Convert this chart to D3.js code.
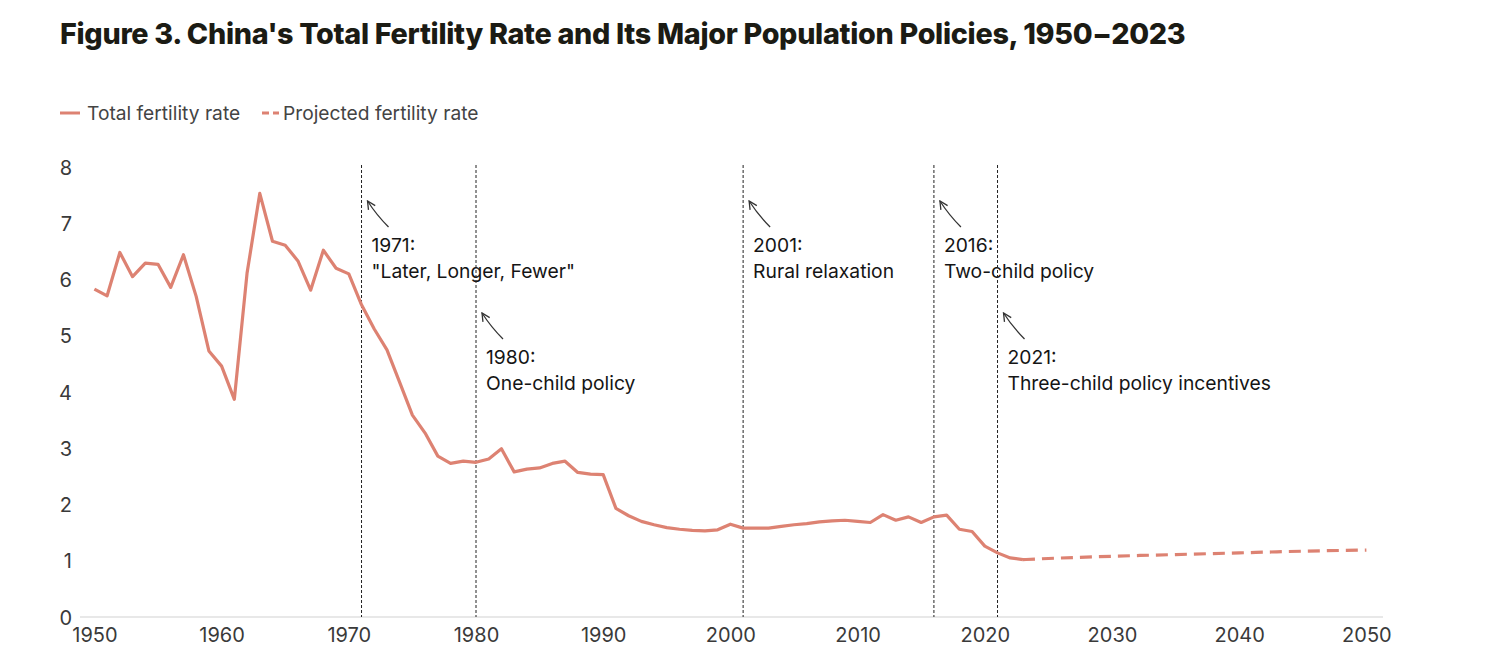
<!DOCTYPE html>
<html lang="en">
<head>
  <meta charset="UTF-8">
  <title>Figure 3</title>
  <script src="https://cdn.jsdelivr.net/npm/d3@7"></script>
  <style>
    body { margin: 0; background: #fff; }
    svg { font-family: Inter, "Noto Sans", sans-serif; }
    .note { fill: #151515; font-size: 19.3px; }
    .legend-label { fill: #444; font-size: 19.2px; }
  </style>
</head>
<body>
  <script>
    // Data
    var years = [1950, 1951, 1952, 1953, 1954, 1955, 1956, 1957, 1958, 1959,
                 1960, 1961, 1962, 1963, 1964, 1965, 1966, 1967, 1968, 1969,
                 1970, 1971, 1972, 1973, 1974, 1975, 1976, 1977, 1978, 1979,
                 1980, 1981, 1982, 1983, 1984, 1985, 1986, 1987, 1988, 1989,
                 1990, 1991, 1992, 1993, 1994, 1995, 1996, 1997, 1998, 1999,
                 2000, 2001, 2002, 2003, 2004, 2005, 2006, 2007, 2008, 2009,
                 2010, 2011, 2012, 2013, 2014, 2015, 2016, 2017, 2018, 2019,
                 2020, 2021, 2022, 2023];
    var tfr = [5.83, 5.71, 6.48, 6.05, 6.29, 6.27, 5.86, 6.44, 5.70, 4.73,
               4.46, 3.87, 6.11, 7.53, 6.68, 6.61, 6.33, 5.81, 6.52, 6.20,
               6.10, 5.55, 5.12, 4.75, 4.17, 3.59, 3.27, 2.86, 2.73, 2.77,
               2.75, 2.81, 2.99, 2.58, 2.63, 2.65, 2.73, 2.77, 2.57, 2.54,
               2.53, 1.93, 1.80, 1.70, 1.64, 1.59, 1.56, 1.54, 1.53, 1.55,
               1.65, 1.58, 1.58, 1.58, 1.61, 1.64, 1.66, 1.69, 1.71, 1.72,
               1.70, 1.68, 1.82, 1.72, 1.78, 1.68, 1.78, 1.81, 1.56, 1.52,
               1.26, 1.14, 1.05, 1.02];
    var projYears = [2023, 2025, 2030, 2035, 2040, 2045, 2050];
    var projTfr = [1.02, 1.04, 1.08, 1.11, 1.14, 1.17, 1.19];

    var policyYears = [1971, 1980, 2001, 2016, 2021];
    var policyLines = [
      ["1971:", "\"Later, Longer, Fewer\""],
      ["1980:", "One-child policy"],
      ["2001:", "Rural relaxation"],
      ["2016:", "Two-child policy"],
      ["2021:", "Three-child policy incentives"]
    ];
    var policyLevel = [0, 1, 0, 0, 1]; // which row the label sits in

    var xTicks = [1950, 1960, 1970, 1980, 1990, 2000, 2010, 2020, 2030, 2040, 2050];
    var yTicks = [0, 1, 2, 3, 4, 5, 6, 7, 8];

    var lineColor = "#dd8272";

    var svg = d3.select("body").append("svg")
      .attr("width", 1486)
      .attr("height", 672);

    /* SCALES */
    var x = d3.scaleLinear().domain([1950, 2050]).range([94.4, 1366.4]);
    var y = d3.scaleLinear().domain([0, 8]).range([617, 167]);

    /* TITLE */
    var title = svg.append("text")
      .attr("x", 60)
      .attr("y", 44)
      .attr("fill", "#1b1b14")
      .style("font-size", "28px")
      .style("font-weight", 800)
      .style("letter-spacing", "-0.3px")
      .text("Figure 3. China's Total Fertility Rate and Its Major Population Policies, 1950\u22122023");
    // fit title width to the original
    var tw = title.node().getComputedTextLength();
    title.style("font-size", (28 * 1125 / tw) + "px");

    /* LEGEND */
    var legend = svg.append("g");
    legend.append("line")
      .attr("x1", 60).attr("x2", 80).attr("y1", 113).attr("y2", 113)
      .attr("stroke", lineColor).attr("stroke-width", 3);
    legend.append("text").attr("class", "legend-label")
      .attr("x", 87).attr("y", 119.5).text("Total fertility rate");
    legend.append("line")
      .attr("x1", 262).attr("x2", 279).attr("y1", 113).attr("y2", 113)
      .attr("stroke", lineColor).attr("stroke-width", 3)
      .attr("stroke-dasharray", "7,4");
    legend.append("text").attr("class", "legend-label")
      .attr("x", 283).attr("y", 119.5).text("Projected fertility rate");

    /* AXES */
    var axisX = d3.axisBottom(x).tickValues(xTicks).tickFormat(d3.format("d")).tickSize(0).tickPadding(11);
    var gx = svg.append("g").attr("transform", "translate(0,617)").call(axisX)
      .attr("font-size", 20).attr("font-family", null);
    gx.select(".domain").attr("stroke", "#e0e0e0").attr("stroke-width", 1.5)
      .attr("d", "M80,0H1383");
    gx.selectAll("text").attr("fill", "#3a3a3a");

    var axisY = d3.axisLeft(y).tickValues(yTicks).tickSize(0).tickPadding(0);
    var gy = svg.append("g").attr("transform", "translate(72,0)").call(axisY)
      .attr("font-size", 20).attr("font-family", null);
    gy.select(".domain").remove();
    gy.selectAll("text").attr("fill", "#3a3a3a")
      .attr("text-anchor", "end").attr("dy", "0.35em");

    /* POLICY MARKERS */
    svg.append("defs").append("marker")
      .attr("id", "arrow")
      .attr("viewBox", "0 0 10 10")
      .attr("refX", 9).attr("refY", 5)
      .attr("markerWidth", 10).attr("markerHeight", 10)
      .attr("markerUnits", "userSpaceOnUse")
      .attr("orient", "auto")
      .append("path")
      .attr("d", "M1,1L9,5L1,9")
      .attr("fill", "none").attr("stroke", "#333").attr("stroke-width", 1.3);

    var markers = svg.selectAll(".policy")
      .data(policyYears)
      .enter().append("g")
      .attr("class", "policy");

    markers.append("line")
      .attr("x1", d => x(d)).attr("x2", d => x(d))
      .attr("y1", y(8) - 2).attr("y2", y(0))
      .attr("stroke", "#222").attr("stroke-width", 1)
      .attr("stroke-dasharray", "3,2");

    markers.append("path")
      .attr("d", (d, i) => {
        var top = policyLevel[i] ? 313 : 201;
        var x0 = x(d) + 6;
        var tip = [x0, top], tail = [x0 + 21, top + 26];
        return "M" + tail + "Q" + [x0 + 9, top + 14] + " " + tip;
      })
      .attr("fill", "none").attr("stroke", "#333").attr("stroke-width", 1.3)
      .attr("marker-end", "url(#arrow)");

    markers.append("text")
      .attr("class", "note")
      .attr("x", d => x(d) + 10)
      .attr("y", (d, i) => policyLevel[i] ? 364 : 252)
      .selectAll("tspan")
      .data((d, i) => policyLines[i])
      .enter().append("tspan")
      .attr("x", function() { return this.parentNode.getAttribute("x"); })
      .attr("dy", (d, j) => j ? 25.5 : 0)
      .text(d => d);

    /* DATA LINES */
    var line = d3.line().x(d => x(d[0])).y(d => y(d[1]));

    svg.append("path")
      .datum(d3.zip(years, tfr))
      .attr("d", line)
      .attr("fill", "none")
      .attr("stroke", lineColor)
      .attr("stroke-width", 3.2)
      .attr("stroke-linejoin", "round");

    svg.append("path")
      .datum(d3.zip(projYears, projTfr))
      .attr("d", line.curve(d3.curveMonotoneX))
      .attr("fill", "none")
      .attr("stroke", lineColor)
      .attr("stroke-width", 3.2)
      .attr("stroke-dasharray", "12,7");
  </script>
</body>
</html>
